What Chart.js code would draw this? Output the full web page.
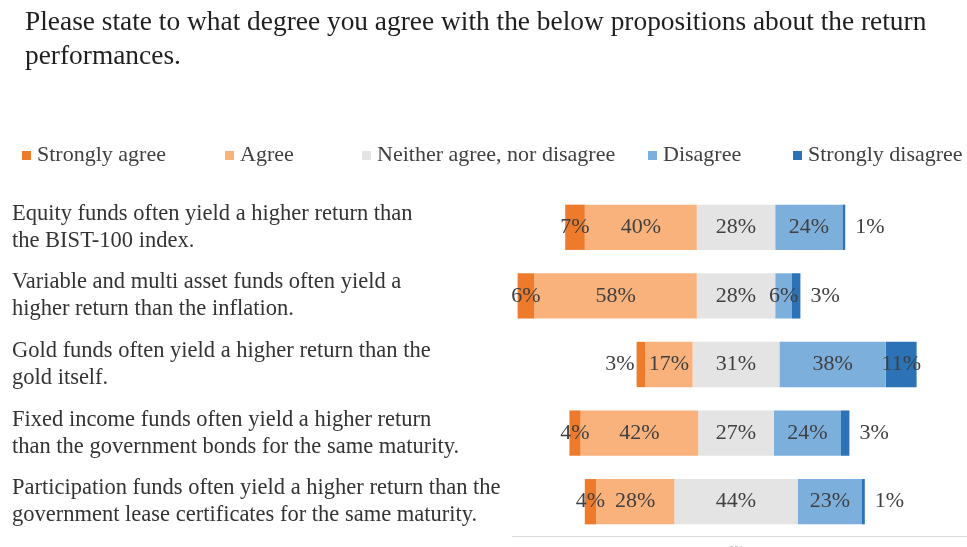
<!DOCTYPE html>
<html>
<head>
<meta charset="utf-8">
<script src="https://cdn.jsdelivr.net/npm/chart.js@4.4.0/dist/chart.umd.min.js"></script>
<style>
  html, body { margin: 0; padding: 0; background: #fff; }
  #wrap { width: 967px; height: 547px; }
</style>
</head>
<body>
<div id="wrap"><canvas id="likert"></canvas></div>
<script>
const heading = [
    'Please state to what degree you agree with the below propositions about the return',
    'performances.'
];

const questions = [
    ['Equity funds often yield a higher return than', 'the BIST-100 index.'],
    ['Variable and multi asset funds often yield a', 'higher return than the inflation.'],
    ['Gold funds often yield a higher return than the', 'gold itself.'],
    ['Fixed income funds often yield a higher return', 'than the government bonds for the same maturity.'],
    ['Participation funds often yield a higher return than the', 'government lease certificates for the same maturity.']
];

const answers = ['Strongly agree', 'Agree', 'Neither agree, nor disagree', 'Disagree', 'Strongly disagree'];

const stronglyAgree    = [7, 6, 3, 4, 4];
const agree            = [40, 58, 17, 42, 28];
const neutral          = [28, 28, 31, 27, 44];
const disagree         = [24, 6, 38, 24, 23];
const stronglyDisagree = [1, 3, 11, 3, 1];

const xTicks = [0];

const colors = ['#EE7B2C', '#F9B27C', '#E4E4E4', '#7DAFDD', '#2B72B6'];
const serif = '"Liberation Serif", "Times New Roman", serif';

// neutral answers are split around zero, agreement goes left, disagreement right
function spans() {
    const sa = [], a = [], n = [], d = [], sd = [];
    questions.forEach((q, i) => {
        const half = neutral[i] / 2;
        a.push([-(half + agree[i]), -half]);
        sa.push([-(half + agree[i] + stronglyAgree[i]), -(half + agree[i])]);
        n.push([-half, half]);
        d.push([half, half + disagree[i]]);
        sd.push([half + disagree[i], half + disagree[i] + stronglyDisagree[i]]);
    });
    return [sa, a, n, d, sd];
}

const values = [stronglyAgree, agree, neutral, disagree, stronglyDisagree];
const outside = ['start', null, null, null, 'end'];
const ranges = spans();

const datasets = answers.map((name, k) => ({
    label: name,
    data: ranges[k],
    values: values[k],
    outside: outside[k],
    backgroundColor: colors[k],
    borderWidth: 0,
    barPercentage: 0.66,
    categoryPercentage: 1
}));

// percent labels on each segment, tiny ones pushed past the bar end
const valueLabels = {
    id: 'valueLabels',
    afterDatasetsDraw(chart) {
        const ctx = chart.ctx;
        ctx.save();
        ctx.font = '22px ' + serif;
        ctx.fillStyle = '#404040';
        ctx.textBaseline = 'middle';
        chart.data.datasets.forEach((ds, di) => {
            chart.getDatasetMeta(di).data.forEach((bar, i) => {
                const v = ds.values[i];
                const lo = Math.min(bar.x, bar.base);
                const hi = Math.max(bar.x, bar.base);
                const txt = v + '%';
                if (v < 4 && ds.outside === 'start') {
                    ctx.textAlign = 'right';
                    ctx.fillText(txt, lo - 2, bar.y);
                } else if (v < 4 && ds.outside === 'end') {
                    ctx.textAlign = 'left';
                    ctx.fillText(txt, hi + 10, bar.y);
                } else {
                    ctx.textAlign = 'center';
                    ctx.fillText(txt, (lo + hi) / 2, bar.y);
                }
            });
        });
        ctx.restore();
    }
};

// heading text and the legend row above the plot
const headerAndKey = {
    id: 'headerAndKey',
    afterDraw(chart) {
        const ctx = chart.ctx;
        ctx.save();
        ctx.textBaseline = 'middle';
        ctx.textAlign = 'left';
        ctx.fillStyle = '#1f1f1f';
        ctx.font = '27.4px ' + serif;
        heading.forEach((line, i) => ctx.fillText(line, 25, 23 + i * 34));

        const keyX = [22, 225, 362, 648, 793];
        ctx.font = '22px ' + serif;
        chart.data.datasets.forEach((ds, k) => {
            ctx.fillStyle = ds.backgroundColor;
            ctx.fillRect(keyX[k], 151, 9, 9);
            ctx.fillStyle = '#404040';
            ctx.fillText(ds.label, keyX[k] + 15, 155);
        });
        ctx.restore();
    }
};

new Chart(document.getElementById('likert'), {
    type: 'bar',
    data: {
        labels: questions,
        datasets: datasets
    },
    options: {
        indexAxis: 'y',
        responsive: true,
        maintainAspectRatio: false,
        animation: false,
        grouped: false,
        layout: {
            padding: { top: 193, left: 12, right: 0, bottom: 0 }
        },
        plugins: {
            legend: { display: false },
            title: { display: false },
            tooltip: { enabled: false }
        },
        scales: {
            x: {
                min: -80,
                max: 82.5,
                grid: { display: false },
                border: { display: true, color: '#d9d9d9', width: 1 },
                afterBuildTicks: scale => {
                    scale.ticks = xTicks.map(v => ({ value: v }));
                },
                afterFit: scale => {
                    scale.height = 11;
                    scale.paddingLeft = 0;
                    scale.paddingRight = 0;
                },
                ticks: {
                    padding: 0,
                    color: '#999999',
                    font: { family: serif, size: 11 },
                    callback: v => v + '%'
                }
            },
            y: {
                grid: { display: false },
                border: { display: false },
                afterFit: scale => {
                    scale.width = 500;
                    scale.paddingTop = 0;
                    scale.paddingBottom = 0;
                },
                ticks: {
                    crossAlign: 'far',
                    color: '#333333',
                    font: { family: serif, size: 22.5, lineHeight: 1.2 }
                }
            }
        }
    },
    plugins: [valueLabels, headerAndKey]
});
</script>
</body>
</html>
